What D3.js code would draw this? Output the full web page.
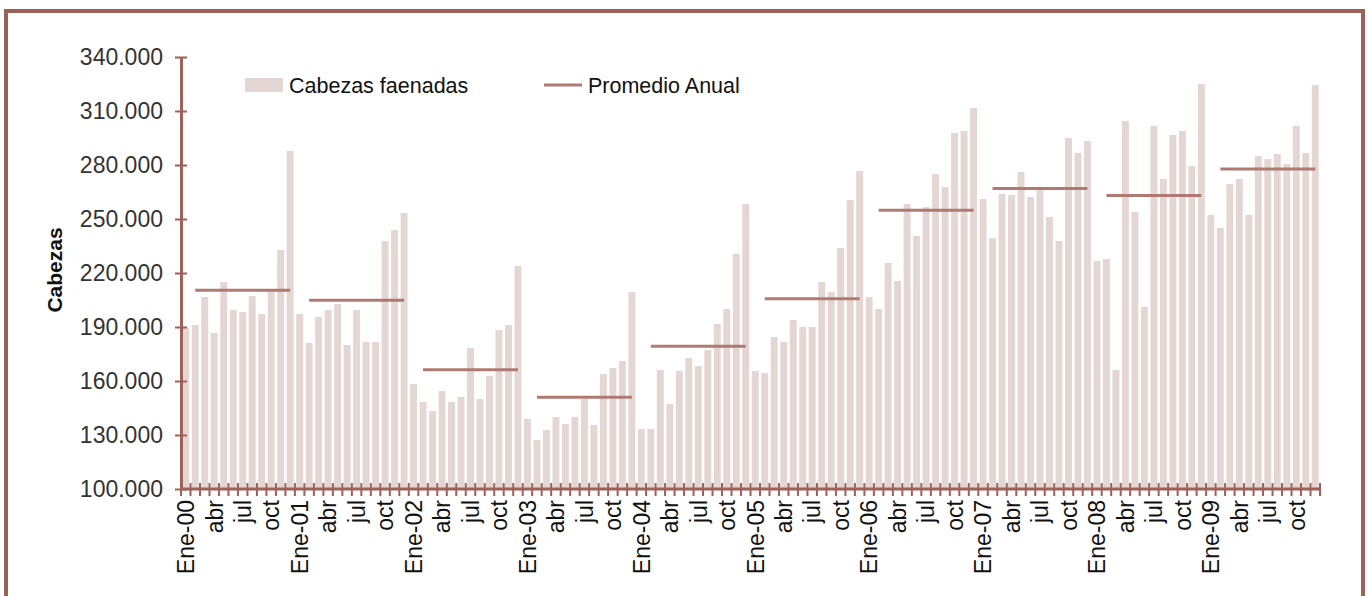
<!DOCTYPE html>
<html><head><meta charset="utf-8">
<script src="https://cdn.jsdelivr.net/npm/d3@7/dist/d3.min.js"></script>
<style>body{margin:0;background:#fff}svg{display:block;font-family:"Liberation Sans",Arial,sans-serif}</style>
</head><body><svg id="c" width="1369" height="596"></svg>
<script>
const years = ["00","01","02","03","04","05","06","07","08","09"];
const monthNames = ["Ene","feb","mar","abr","may","jun","jul","ago","sep","oct","nov","dic"];
const tickMonths = ["Ene","abr","jul","oct"];
const cabezas = [
 189600,191100,206700,186700,215000,199400,198300,207200,197200,210900,232800,287800,
 197200,181100,195600,199400,202800,180000,199400,181700,181700,237800,243900,253300,
 158300,148300,143300,154400,148300,151100,178300,150000,162800,188300,191100,223900,
 138900,127200,132800,140000,136100,140000,150000,135600,163900,167200,171100,209400,
 133300,133300,166100,147200,165600,172800,168300,177200,191700,200000,230600,258300,
 165600,164400,184400,181700,193900,190000,190000,215000,209400,233900,260600,276700,
 206700,200000,225600,215600,258300,240600,256700,275000,267800,297800,298900,311700,
 261100,239400,263900,263300,276100,262200,267800,251100,237800,295000,286700,293300,
 226700,227800,166100,304400,253900,201100,301700,272200,296700,298900,279400,325000,
 252200,245000,269400,272200,252200,285000,283300,286100,280600,301700,286700,324400
];
const promedioAnual = [210400,204800,166300,151000,179300,205700,254800,266900,263100,277800];
const yTicks = [100000,130000,160000,190000,220000,250000,280000,310000,340000];

const axisColor = "#9e6158", barColor = "#e4d6d3", lineColor = "#b07a72", textColor = "#333";
const svg = d3.select("#c");
const months = [];
years.forEach(y => monthNames.forEach((m, i) => months.push({key: m + "-" + y, m: i, y})));
const data = months.map((d, i) => ({...d, v: cabezas[i]}));

const x0 = 181, x1 = 1320, yTop = 57, yBot = 489;
const x = d3.scaleBand().domain(data.map(d => d.key)).range([x0, x1]).paddingInner(0.27).paddingOuter(0.135);
const y = d3.scaleLinear().domain([100000, 340000]).range([yBot, yTop]);
const step = x.step();
const center = k => x(k) + x.bandwidth() / 2;
const loc = d3.formatLocale({decimal: ",", thousands: ".", grouping: [3], currency: ["", ""]});
const fmt = loc.format(",.3f");
const fmtY = v => loc.format(",")(v / 1000) + ".000";

// frame
svg.append("rect").attr("x", 6).attr("y", 11).attr("width", 1357).attr("height", 620)
  .attr("fill", "none").attr("stroke", axisColor).attr("stroke-width", 4);

// bars
svg.append("g").selectAll("rect").data(data).join("rect")
  .attr("x", d => x(d.key)).attr("width", x.bandwidth())
  .attr("y", d => y(d.v)).attr("height", d => yBot - y(d.v)).attr("fill", barColor);

// annual average lines
svg.append("g").selectAll("line").data(promedioAnual).join("line")
  .attr("x1", (v, i) => center(data[i * 12 + 1].key))
  .attr("x2", (v, i) => center(data[i * 12 + 11].key))
  .attr("y1", v => y(v)).attr("y2", v => y(v))
  .attr("stroke", lineColor).attr("stroke-width", 3);

// y axis
const ya = svg.append("g").attr("transform", `translate(${x0},0)`)
  .call(d3.axisLeft(y).tickValues(yTicks).tickFormat(fmtY).tickSizeInner(6).tickSizeOuter(0).tickPadding(12));
ya.select(".domain").attr("stroke", axisColor).attr("stroke-width", 3);
ya.selectAll(".tick line").attr("stroke", axisColor).attr("stroke-width", 2).attr("x1", -6).attr("x2", 6);
ya.selectAll(".tick text").attr("fill", textColor).style("font-size", "23px").attr("font-family", "Liberation Sans, Arial, sans-serif");

// x axis line + ticks at band boundaries
const bounds = d3.range(0, 121).map(i => x0 + i * step);
svg.append("line").attr("x1", x0).attr("x2", x1).attr("y1", yBot).attr("y2", yBot)
  .attr("stroke", axisColor).attr("stroke-width", 3);
svg.append("g").selectAll("line").data(bounds).join("line")
  .attr("x1", d => d).attr("x2", d => d).attr("y1", yBot - 6).attr("y2", yBot + 7)
  .attr("stroke", axisColor).attr("stroke-width", 2);

// x labels
const labData = data.filter(d => d.m % 3 === 0);
svg.append("g").selectAll("text").data(labData).join("text")
  .attr("transform", d => `translate(${center(d.key)},${yBot + 11}) rotate(-90)`)
  .attr("text-anchor", "end").attr("dy", "0.36em")
  .attr("fill", "#111").style("font-size", "23px")
  .text(d => d.m === 0 ? "Ene-" + d.y : tickMonths[d.m / 3]);

// y title
svg.append("text").attr("transform", "translate(54,270) rotate(-90)")
  .attr("text-anchor", "middle").attr("dy", "0.36em")
  .style("font-size", "21px").style("font-weight", "bold").attr("fill", "#111").text("Cabezas");

// legend
svg.append("rect").attr("x", 245).attr("y", 78).attr("width", 38).attr("height", 14).attr("fill", barColor);
svg.append("text").attr("x", 289).attr("y", 85).attr("dy", "0.36em").style("font-size", "21.5px").attr("fill", "#111").text("Cabezas faenadas");
svg.append("line").attr("x1", 544).attr("x2", 582).attr("y1", 85).attr("y2", 85).attr("stroke", lineColor).attr("stroke-width", 3);
svg.append("text").attr("x", 588).attr("y", 85).attr("dy", "0.36em").style("font-size", "21.5px").attr("fill", "#111").text("Promedio Anual");
</script></body></html>
